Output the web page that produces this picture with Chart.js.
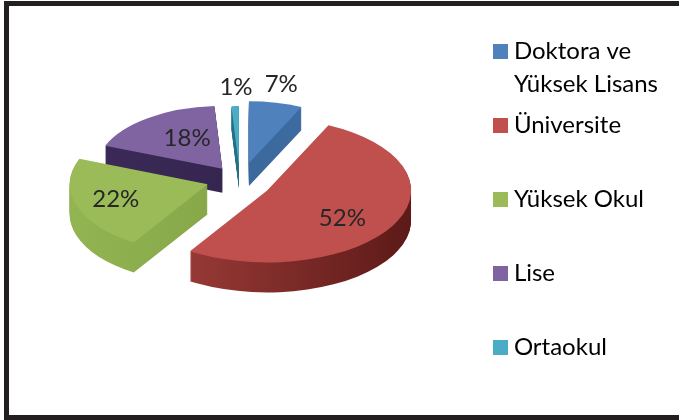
<!DOCTYPE html>
<html>
<head>
<meta charset="utf-8">
<script src="https://cdn.jsdelivr.net/npm/chart.js@4"></script>
<style>
	html, body { margin: 0; padding: 0; background: #fff; }
	#box { width: 679px; height: 420px; }
</style>
</head>
<body>
<div id="box"><canvas id="pie"></canvas></div>
<script>
var labels = [["Doktora ve", "Yüksek Lisans"], "Üniversite", "Yüksek Okul", "Lise", "Ortaokul"];
var values = [7, 52, 22, 18, 1];

var topColors = ["#4f81bd", "#c0504d", "#9bbb59", "#8064a2", "#4bacc6"];
var wallLeft = ["#3a6596", "#a8423f", "#93b453", "#3b2a58", "#2b7f95"];
var wallRight = ["#3f6da3", "#5c1a18", "#7c9c3e", "#2f2147", "#1d5f70"];

// the 3d look: exploded distance, size (front is bigger) and wall height of each slice
var explode = [41, 31, 34, 30, 34];
var sliceScale = [1.03, 1.2, 1.15, 1.05, 1.0];
var sliceShiftY = [0, 0, -4, -2, 0];
var wallHeight = [23, 30, 30, 24, 23];
var drawOrder = [3, 4, 0, 2, 1];

var labelRadius = [1.31, 0.62, 0.7, 0.57, 1.32];
var labelShiftX = [-3, -3, 0, 7, 2];
var labelShiftY = [0, 6, -4, -4, 0];

var tilt = 0.5;
var pieCenterX = 240;
var pieCenterY = 183;
var baseRadius = 120;
var textColor = "#262626";
var fontFamily = "Lato, 'Open Sans', sans-serif";

function sliceTransform(ctx, arc, i, dy) {
	var mid = (arc.startAngle + arc.endAngle) / 2;
	var s = sliceScale[i];
	ctx.translate(pieCenterX + Math.cos(mid) * explode[i], pieCenterY + Math.sin(mid) * explode[i] * tilt + sliceShiftY[i] + dy);
	ctx.scale(s, s * tilt);
	ctx.translate(-arc.x, -arc.y);
}

// legend swatch, drawn on a small canvas so the text can sit close to it
function swatch(color) {
	var c = document.createElement("canvas");
	c.width = 15;
	c.height = 15;
	var cx = c.getContext("2d");
	cx.fillStyle = color;
	cx.fillRect(0, 0, 15, 15);
	return c;
}

var pie3d = {
	id: "pie3d",
	beforeDraw: function (chart) {
		var ctx = chart.ctx;
		ctx.save();
		ctx.fillStyle = "#231f20";
		ctx.fillRect(4, 1, 675, 5);
		ctx.fillRect(4, 1, 5, 419);
		ctx.fillRect(4, 415, 675, 5);
		ctx.restore();
	},
	beforeDatasetDraw: function (chart, args) {
		var ctx = chart.ctx;
		var arcs = args.meta.data;

		drawOrder.forEach(function (i) {
			var arc = arcs[i];
			var r = arc.outerRadius;
			for (var h = wallHeight[i]; h > 0; h--) {
				ctx.save();
				sliceTransform(ctx, arc, i, h);
				var grad = ctx.createLinearGradient(arc.x - r, 0, arc.x + r, 0);
				grad.addColorStop(0, wallLeft[i]);
				grad.addColorStop(1, wallRight[i]);
				var wall = Object.create(arc);
				wall.options = Object.assign({}, arc.options, { backgroundColor: grad });
				wall.draw(ctx);
				ctx.restore();
			}
			ctx.save();
			sliceTransform(ctx, arc, i, 0);
			arc.draw(ctx);
			ctx.restore();
		});

		ctx.save();
		ctx.fillStyle = textColor;
		ctx.font = "24px " + fontFamily;
		ctx.textAlign = "center";
		ctx.textBaseline = "middle";
		arcs.forEach(function (arc, i) {
			var mid = (arc.startAngle + arc.endAngle) / 2;
			var d = explode[i] + baseRadius * sliceScale[i] * labelRadius[i];
			ctx.fillText(
				values[i] + "%",
				pieCenterX + Math.cos(mid) * d + labelShiftX[i],
				pieCenterY + Math.sin(mid) * d * tilt + labelShiftY[i]
			);
		});
		ctx.restore();
		return false;
	},
};

new Chart(document.getElementById("pie"), {
	type: "pie",
	data: {
		labels: labels,
		datasets: [
			{
				data: values,
				backgroundColor: topColors,
				borderWidth: 0,
				radius: baseRadius,
			},
		],
	},
	options: {
		responsive: true,
		maintainAspectRatio: false,
		animation: false,
		layout: { padding: { top: 31, right: 11 } },
		plugins: {
			tooltip: { enabled: false },
			legend: {
				position: "right",
				align: "start",
				labels: {
					usePointStyle: true,
					pointStyleWidth: 3,
					boxHeight: 15,
					padding: 8,
					color: textColor,
					font: { family: fontFamily, size: 24, lineHeight: 1.375 },
					generateLabels: function (chart) {
						return labels.map(function (label, i) {
							return {
								text: Array.isArray(label) ? label : [label, " "],
								pointStyle: swatch(topColors[i]),
								fillStyle: topColors[i],
								lineWidth: 0,
								strokeStyle: topColors[i],
								index: i,
							};
						});
					},
				},
			},
		},
	},
	plugins: [pie3d],
});
</script>
</body>
</html>
